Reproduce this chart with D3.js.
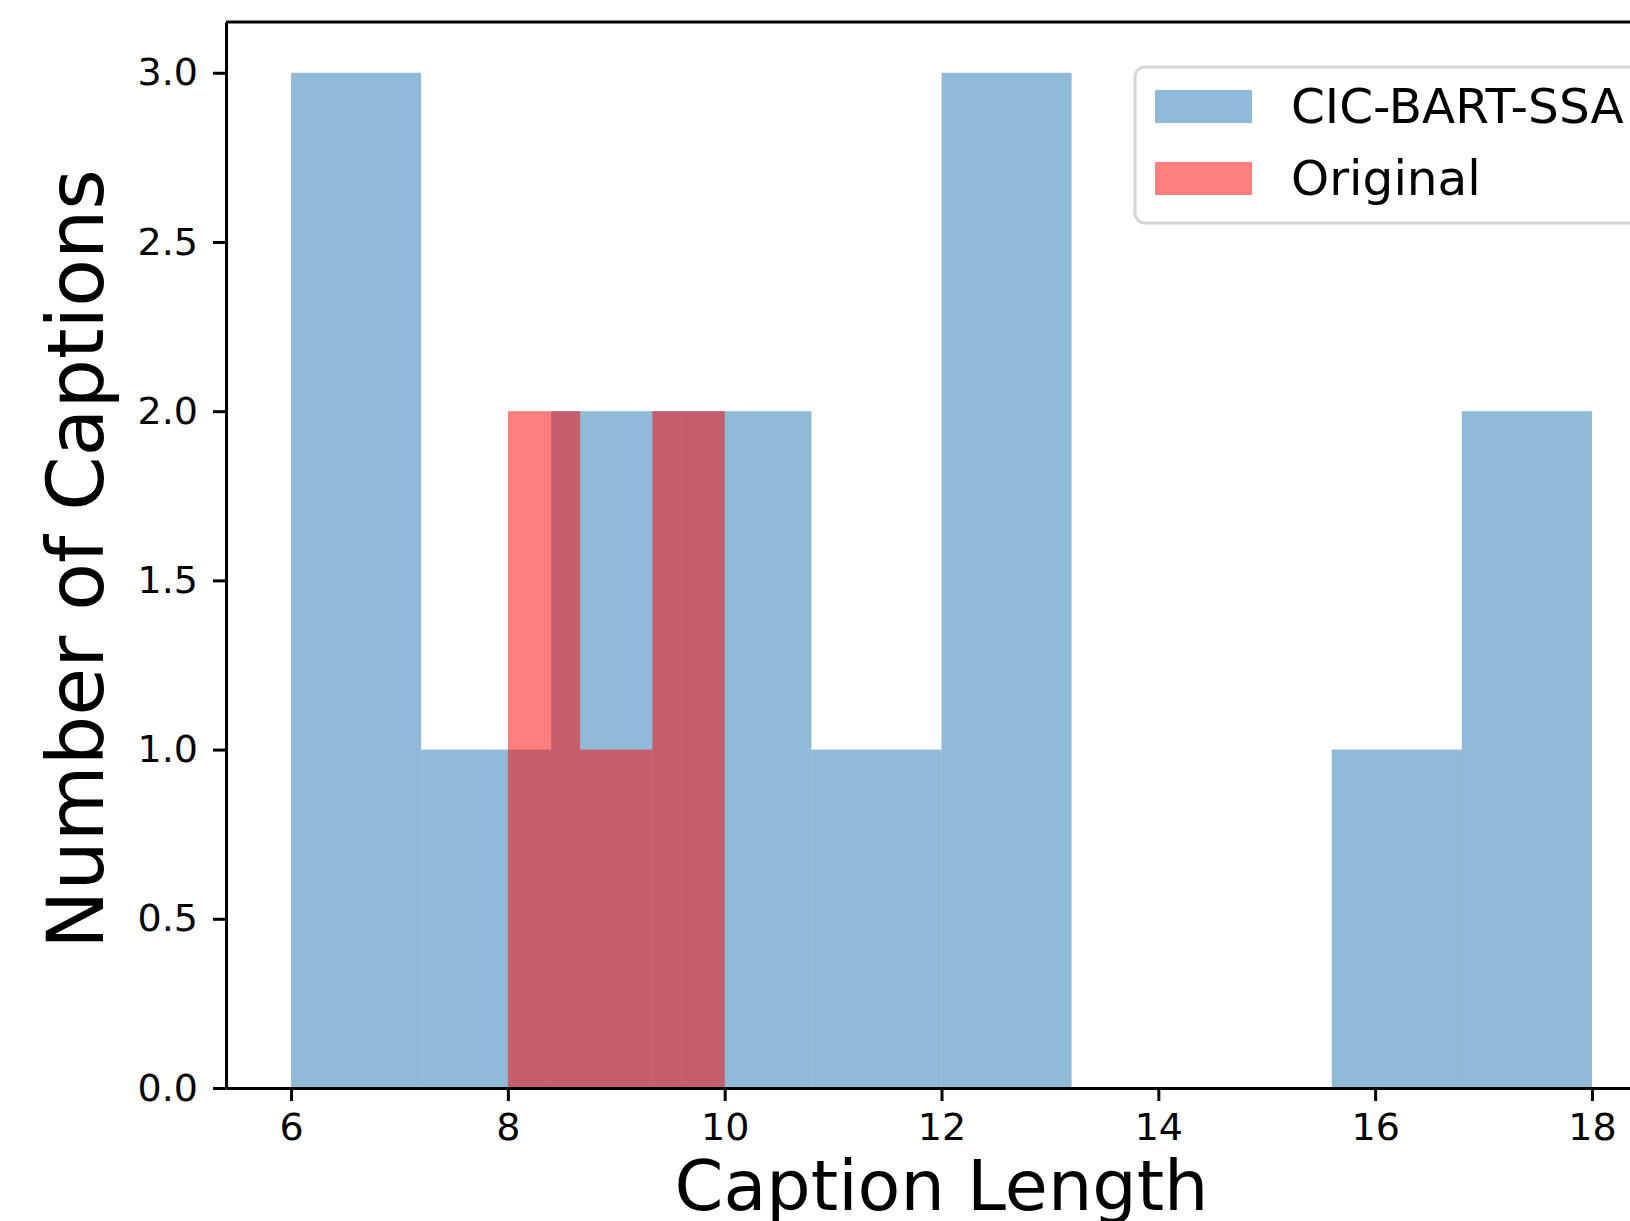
<!DOCTYPE html>
<html>
<head>
<meta charset="utf-8">
<script src="https://cdnjs.cloudflare.com/ajax/libs/d3/7.8.5/d3.min.js"></script>
<style>
  body { margin: 0; background: #fff; }
  svg { display: block; font-family: "DejaVu Sans", sans-serif; }
</style>
</head>
<body>
<div class="canvas"></div>
<script>
// histogram bins
const ssaEdges = [6, 7.2, 8.4, 9.6, 10.8, 12, 13.2, 14.4, 15.6, 16.8, 18];
const ssaCounts = [3, 1, 2, 2, 1, 3, 0, 0, 1, 2];
const origEdges = [8, 8 + 2 / 3, 9 + 1 / 3, 10];
const origCounts = [2, 1, 2];
const seriesNames = ["CIC-BART-SSA", "Original"];
const xTicks = [6, 8, 10, 12, 14, 16, 18];
const yTicks = [0, 0.5, 1, 1.5, 2, 2.5, 3];

const width = 1630;
const height = 1221;

const svg = d3
  .select(".canvas")
  .append("svg")
  .attr("width", width)
  .attr("height", height);

// axes box (right edge falls outside the picture, as in the original)
const margin = { top: 22, left: 226 };
const graphWidth = 1657 - margin.left;
const graphHeight = 1088 - margin.top;

const graph = svg
  .append("g")
  .attr("transform", `translate(${margin.left},${margin.top})`);

const x = d3.scaleLinear().domain([5.4, 18.6]).range([0, graphWidth]);
const y = d3.scaleLinear().domain([0, 3.15]).range([graphHeight, 0]);

const toBins = (edges, counts) =>
  counts.map((c, i) => ({ x0: edges[i], x1: edges[i + 1], count: c }));

const drawHist = (bins, color) => {
  graph
    .append("g")
    .selectAll("rect")
    .data(bins.filter((d) => d.count > 0))
    .enter()
    .append("rect")
    .attr("x", (d) => x(d.x0))
    .attr("width", (d) => x(d.x1) - x(d.x0))
    .attr("y", (d) => y(d.count))
    .attr("height", (d) => graphHeight - y(d.count))
    .attr("fill", color)
    .attr("fill-opacity", 0.5);
};

drawHist(toBins(ssaEdges, ssaCounts), "#1f77b4");
drawHist(toBins(origEdges, origCounts), "#ff0000");

// spines
graph
  .append("line")
  .attr("x1", 0).attr("x2", graphWidth)
  .attr("y1", 0).attr("y2", 0)
  .attr("stroke", "#000").attr("stroke-width", 3);
graph
  .append("line")
  .attr("x1", graphWidth).attr("x2", graphWidth)
  .attr("y1", 0).attr("y2", graphHeight)
  .attr("stroke", "#000").attr("stroke-width", 3);

// axes
const xAxis = d3.axisBottom(x).tickValues(xTicks).tickSize(13).tickPadding(12).tickSizeOuter(0);
const yAxis = d3.axisLeft(y).tickValues(yTicks).tickSize(13).tickPadding(15).tickSizeOuter(0).tickFormat(d3.format(".1f"));

const xAxisGroup = graph
  .append("g")
  .attr("transform", `translate(0, ${graphHeight})`)
  .call(xAxis);
const yAxisGroup = graph.append("g").call(yAxis);

[xAxisGroup, yAxisGroup].forEach((g) => {
  g.select(".domain").attr("stroke-width", 3).attr("stroke", "#000");
  g.selectAll(".tick line").attr("stroke-width", 3).attr("stroke", "#000");
  g.selectAll("text")
    .attr("font-size", 38)
    .attr("font-family", "DejaVu Sans")
    .attr("fill", "#000");
});

// axis labels
svg
  .append("text")
  .text("Caption Length")
  .attr("x", margin.left + graphWidth / 2)
  .attr("y", 1210)
  .attr("text-anchor", "middle")
  .attr("font-size", 70)
  .attr("fill", "#000");

svg
  .append("text")
  .text("Number of Captions")
  .attr("transform", `translate(103, ${margin.top + graphHeight / 2 + 4}) rotate(-90)`)
  .attr("text-anchor", "middle")
  .attr("font-size", 78)
  .attr("fill", "#000");

// legend
const legend = svg.append("g").attr("transform", "translate(1135, 67)");
legend
  .append("rect")
  .attr("x", 0).attr("y", 0)
  .attr("width", 600).attr("height", 156)
  .attr("rx", 10)
  .attr("fill", "#fff").attr("fill-opacity", 0.8)
  .attr("stroke", "#d6d6d6").attr("stroke-width", 3);

const legendColors = ["#1f77b4", "#ff0000"];
seriesNames.forEach((name, i) => {
  legend
    .append("rect")
    .attr("x", 20).attr("y", 23 + i * 72)
    .attr("width", 97).attr("height", 33)
    .attr("fill", legendColors[i]).attr("fill-opacity", 0.5);
  legend
    .append("text")
    .text(name)
    .attr("x", 156).attr("y", 56 + i * 72)
    .attr("font-size", 48.5)
    .attr("fill", "#000");
});
</script>
</body>
</html>
